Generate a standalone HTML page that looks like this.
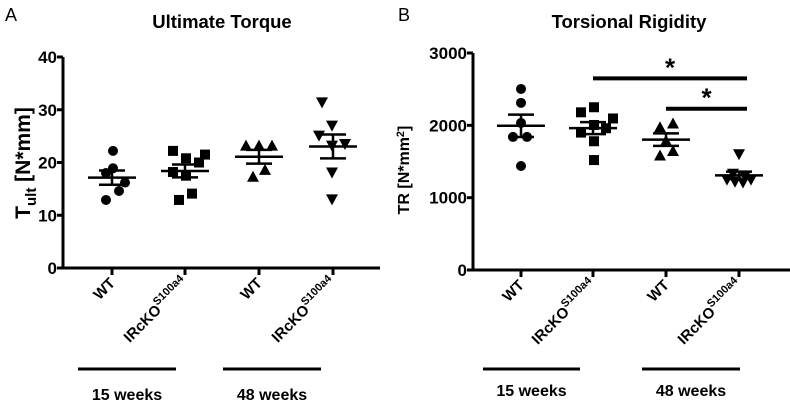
<!DOCTYPE html>
<html><head><meta charset="utf-8"><style>
body{margin:0;background:#fff;}
svg{display:block;font-family:"Liberation Sans",Arial,sans-serif;}
</style></head><body>
<svg id="c" width="790" height="406" viewBox="0 0 790 406" xmlns="http://www.w3.org/2000/svg"></svg>
<script>
const categories = ["WT", "IRcKO", "WT", "IRcKO"];
const groupLabels = ["15 weeks", "48 weeks"];
const torqueWT15 = [22.2, 18.9, 18.0, 16.2, 14.6, 12.9];
const torqueKO15 = [22.2, 20.8, 21.5, 20.0, 18.2, 17.5, 14.1, 12.9];
const torqueWT48 = [23.2, 23.2, 23.2, 17.3, 18.6];
const torqueKO48 = [31.4, 27.0, 25.1, 23.2, 23.5, 18.1, 13.0];
const torqueTicks = [0, 10, 20, 30, 40];
const rigidWT15 = [2503, 2311, 2033, 1840, 1840, 1438];
const rigidKO15 = [2180, 2250, 2095, 1900, 2005, 1960, 1780, 1520];
const rigidWT48 = [1973, 2025, 1785, 1583, 1646];
const rigidKO48 = [1600, 1330, 1300, 1250, 1220, 1210, 1250];
const rigidTicks = [0, 1000, 2000, 3000];
const sigBars = [[1, 3, 2650], [2, 3, 2230]];
// horizontal scatter offsets (layout only)
const jitA = [[1,1,-6,13,7,-6],[-12,1,20,14,-12,1,7,-6],[-13,0,13,-6,6],[-11,-1,-14,-1,12,-1,-1]];
const jitB = [[0,0,0,-8,6,0],[-12,1,20,-12,1,13,1,1],[-6,7,0,-6,7],[0,-6,6,-12,-4,4,12]];

const NS = "http://www.w3.org/2000/svg";
const svg = document.getElementById("c");
function mk(tag, attrs, parent, text) {
  const e = document.createElementNS(NS, tag);
  for (const k in attrs) e.setAttribute(k, attrs[k]);
  if (text !== undefined) e.textContent = text;
  (parent || svg).appendChild(e);
  return e;
}
function stats(a) {
  const m = a.reduce((s, v) => s + v, 0) / a.length;
  const sd = Math.sqrt(a.reduce((s, v) => s + (v - m) * (v - m), 0) / (a.length - 1));
  return [m, sd / Math.sqrt(a.length)];
}
function marker(g, shape, x, y) {
  let e;
  if (shape === 0) e = mk("circle", {cx: x, cy: y, r: 5, fill: "#000"}, g);
  else if (shape === 1) e = mk("rect", {x: x - 5, y: y - 5, width: 10, height: 10, fill: "#000"}, g);
  else if (shape === 2) e = mk("polygon", {points: `${x},${y-6} ${x-6},${y+5} ${x+6},${y+5}`, fill: "#000"}, g);
  else e = mk("polygon", {points: `${x},${y+6} ${x-6},${y-5} ${x+6},${y-5}`, fill: "#000"}, g);
  
  
}
function panel(o) {
  const g = mk("g", {}, svg);
  
  
  const y = v => o.y0 + (o.y1 - o.y0) * (v - o.tmin) / (o.tmax - o.tmin);
  const x = i => o.cx[i];
  let t = mk("text", {x: o.lx, y: 21, "font-size": 18}, g, o.letter);
   
  t = mk("text", {x: o.tx, y: 28, "font-size": 18.5, "font-weight": "bold", "text-anchor": "middle"}, g, o.title);
   
  let l = mk("line", {x1: o.ax, y1: o.y0 + 1.5, x2: o.ax, y2: o.y1, stroke: "#000", "stroke-width": 3}, g);
   
  l = mk("line", {x1: o.ax, y1: o.y0, x2: o.axEnd, y2: o.y0, stroke: "#000", "stroke-width": 3}, g);
   
  o.ticks.forEach(v => {
    mk("line", {x1: o.ax - 6, y1: y(v), x2: o.ax, y2: y(v), stroke: "#000", "stroke-width": 3}, g);
    const tl = mk("text", {x: o.ax - 6, y: y(v) + 6, "font-size": 17, "font-weight": "bold", "text-anchor": "end"}, g, v);
     
  });
  categories.forEach((c, i) => {
    mk("line", {x1: x(i), y1: o.y0, x2: x(i), y2: o.y0 + 7, stroke: "#000", "stroke-width": 3}, g);
    const tg = mk("text", {transform: `translate(${x(i) + 4},${o.y0 + 16}) rotate(-45)`, "font-size": 15, "font-weight": "bold", "text-anchor": "end"}, g);
     
    if (c === "WT") { tg.textContent = "WT"; }
    else {
      mk("tspan", {}, tg, "IRcKO");
      mk("tspan", {dy: -7, "font-size": 11}, tg, "S100a4");
    }
  });
  groupLabels.forEach((gl, k) => {
    const b = o.groups[k];
    const gbar = mk("line", {x1: b[0], y1: 369, x2: b[1], y2: 369, stroke: "#000", "stroke-width": 3}, g);
     
    const gt = mk("text", {x: (b[0] + b[1]) / 2, y: o.gy, "font-size": 16, "font-weight": "bold", "text-anchor": "middle"}, g, gl);
     
  });
  o.series.forEach((s, i) => {
    s.forEach((v, j) => marker(g, i, x(i) + (o.jit[i][j] || 0), y(v)));
    const [m, se] = stats(s);
    const eb = mk("g", {}, g);
     
    mk("line", {x1: x(i) - 24, y1: y(m), x2: x(i) + 24, y2: y(m), stroke: "#000", "stroke-width": 2.5}, eb);
    mk("line", {x1: x(i), y1: y(m - se), x2: x(i), y2: y(m + se), stroke: "#000", "stroke-width": 2.5}, eb);
    mk("line", {x1: x(i) - 13, y1: y(m + se), x2: x(i) + 13, y2: y(m + se), stroke: "#000", "stroke-width": 2.5}, eb);
    mk("line", {x1: x(i) - 13, y1: y(m - se), x2: x(i) + 13, y2: y(m - se), stroke: "#000", "stroke-width": 2.5}, eb);
  });
  const yt = mk("text", {transform: `translate(${o.ytx},${o.yty}) rotate(-90)`, "font-size": o.ytSize, "font-weight": "bold", "text-anchor": "middle"}, g);
   
  o.ytParts.forEach(p => mk("tspan", p[1], yt, p[0]));
  return y;
}
panel({name: "torque-panel", letter: "A", lx: 5, title: "Ultimate Torque", tx: 222,
  ax: 63, axEnd: 380, y0: 268, y1: 57, tmin: 0, tmax: 40, ticks: torqueTicks,
  cx: [112, 185, 259, 333], series: [torqueWT15, torqueKO15, torqueWT48, torqueKO48], jit: jitA,
  groups: [[78, 176], [223, 321]], gy: 400,
  ytx: 30, yty: 163, ytSize: 21,
  ytParts: [["T", {}], ["ult", {dy: 6, "font-size": 15}], [" [N*mm]", {dy: -6}]]});
const yB = panel({name: "rigidity-panel", letter: "B", lx: 398, title: "Torsional Rigidity", tx: 629,
  ax: 473, axEnd: 790, y0: 270, y1: 53, tmin: 0, tmax: 3000, ticks: rigidTicks,
  cx: [521, 593, 666, 739], series: [rigidWT15, rigidKO15, rigidWT48, rigidKO48], jit: jitB,
  groups: [[483, 580], [642, 740]], gy: 396,
  ytx: 409, yty: 170, ytSize: 16,
  ytParts: [["TR [N*mm", {}], ["2", {dy: -5, "font-size": 11}], ["]", {dy: 5}]]});
const cxB = [521, 593, 666, 739];
sigBars.forEach(s => {
  const g = mk("g", {});
  
  
  const x1 = cxB[s[0]], x2 = cxB[s[1]] + 8, yy = yB(s[2]);
  mk("line", {x1: x1, y1: yy, x2: x2, y2: yy, stroke: "#000", "stroke-width": 4}, g);
  mk("text", {x: (x1 + x2) / 2, y: yy - 2, "font-size": 26, "font-weight": "bold", "text-anchor": "middle"}, g, "*");
});
</script>
</body></html>
